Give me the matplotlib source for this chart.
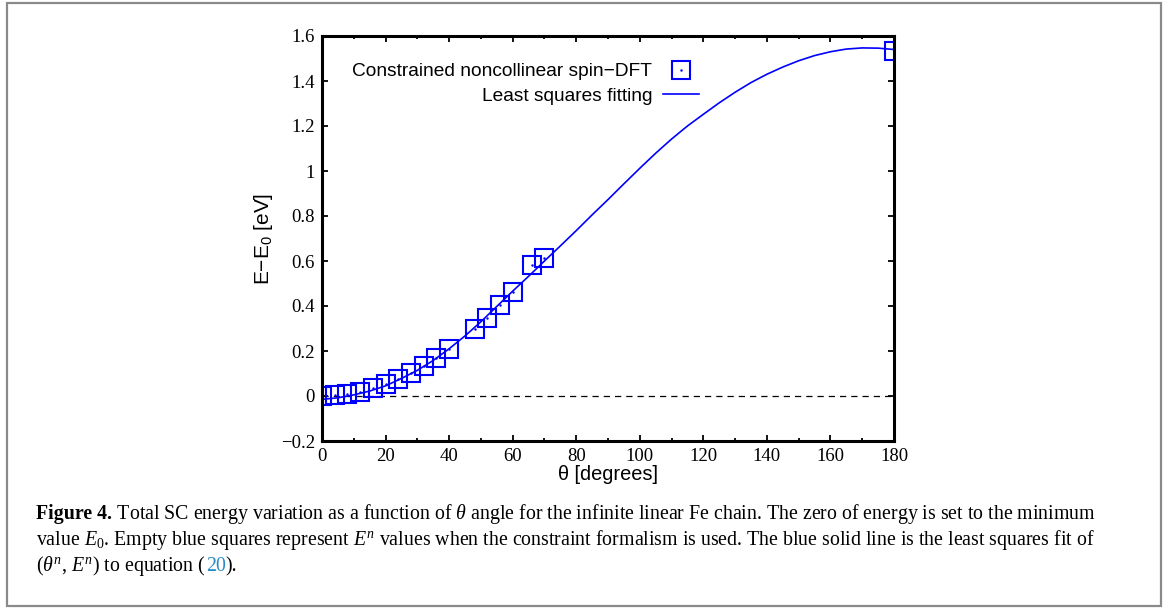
import numpy as np
import matplotlib
matplotlib.use('Agg')
from matplotlib import pyplot as plt
from matplotlib.patches import Rectangle
from matplotlib.legend_handler import HandlerTuple
from matplotlib.ticker import MultipleLocator

plt.rcParams['mathtext.fontset'] = 'custom'
plt.rcParams['mathtext.rm'] = 'Liberation Serif'
plt.rcParams['mathtext.it'] = 'Liberation Serif:italic'
plt.rcParams['mathtext.bf'] = 'Liberation Serif:bold'
plt.rcParams['mathtext.sf'] = 'Liberation Sans'

# constrained noncollinear spin-DFT points
theta = [0, 4, 8, 12, 16, 20, 24, 28, 32, 36, 40, 48, 52, 56, 60, 66, 70, 180]
energy = [0.0, 0.004, 0.009, 0.02, 0.034, 0.052, 0.074, 0.104, 0.133, 0.167,
          0.207, 0.296, 0.345, 0.404, 0.464, 0.582, 0.612, 1.533]

# least squares curve
fit_theta = [0, 5, 10, 15, 20, 25, 30, 35, 40, 45, 50, 55, 60, 65, 70, 75, 80, 85, 90,
             95, 100, 105, 110, 115, 120, 125, 130, 135, 140, 145, 150, 155, 160,
             165, 170, 175, 180]
fit_energy = [-0.015, -0.008, 0.005, 0.022, 0.045, 0.078, 0.114, 0.158, 0.210, 0.267,
              0.330, 0.398, 0.466, 0.532, 0.600, 0.667, 0.735, 0.805, 0.873,
              0.943, 1.012, 1.079, 1.142, 1.200, 1.252, 1.303, 1.350, 1.393, 1.430,
              1.462, 1.490, 1.513, 1.530, 1.542, 1.547, 1.546, 1.540]

xticks = [0, 20, 40, 60, 80, 100, 120, 140, 160, 180]
yticks = [-0.2, 0, 0.2, 0.4, 0.6, 0.8, 1, 1.2, 1.4, 1.6]
ytick_labels = ['\u22120.2', '0', '0.2', '0.4', '0.6', '0.8', '1', '1.2', '1.4', '1.6']

W, H = 1170, 608
fig = plt.figure(figsize=(W / 100, H / 100), dpi=100)
ax = fig.add_axes([322 / W, 1 - 441 / H, (894 - 322) / W, (441 - 36) / H])

ax.plot([0, 180], [0, 0], color='black', lw=0.9, dashes=(5, 4))
curve, = ax.plot(fit_theta, fit_energy, color='#0000ff', lw=1.2)
sq, = ax.plot(theta, energy, ls='none', marker='s', ms=12.5, mfc='none',
              mec='#0000ff', mew=1.5)
dot, = ax.plot(theta, energy, ls='none', marker='.', ms=1.5, color='#0000ff')

ax.set_xlim(0, 180)
ax.set_ylim(-0.2, 1.6)
ax.set_xticks(xticks)
ax.set_yticks(yticks)
ax.set_yticklabels(ytick_labels)
ax.xaxis.set_minor_locator(MultipleLocator(10))
for s in ax.spines.values():
    s.set_linewidth(2.2)
ax.tick_params(which='both', direction='in', top=True, right=True, width=1.3,
               labelsize=13.5, labelfontfamily='Liberation Serif', pad=5)
ax.tick_params(which='major', length=4.5)
ax.tick_params(which='minor', length=2.5)

ax.set_xlabel('\u03b8 [degrees]', family='Liberation Sans', fontsize=14.4, labelpad=0)
ax.set_ylabel('E\u2212E$_\\mathsf{0}$ [eV]', family='Liberation Sans', fontsize=15,
              labelpad=4)

leg = ax.legend([(sq, dot), curve],
                ['Constrained noncollinear spin\u2212DFT', 'Least squares fitting'],
                handler_map={tuple: HandlerTuple(ndivide=1)},
                markerfirst=False, frameon=False, loc='upper right',
                bbox_to_anchor=(699 / W, 1 - 63 / H), bbox_transform=fig.transFigure,
                prop={'family': 'Liberation Sans', 'size': 13.8},
                handlelength=1.9, handletextpad=0.55, labelspacing=0.35,
                borderpad=0, borderaxespad=0)

# outer frame
fig.patches.append(Rectangle((7 / W, 1 - 606 / H), (1161 - 7) / W, (606 - 3) / H,
                             transform=fig.transFigure, fill=False,
                             edgecolor='#8a8a8a', lw=1.6))

# caption
cap = dict(family='Liberation Serif', fontsize=14.3, va='baseline')
renderer = fig.canvas.get_renderer()


def put_line(y, pieces, x0=36):
    x = x0
    for txt, extra in pieces:
        kw = dict(cap)
        kw.update(extra)
        t = fig.text(x / W, 1 - y / H, txt, **kw)
        x += t.get_window_extent(renderer).width


put_line(519, [('Figure 4.', {'weight': 'bold'}),
               (r' Total SC energy variation as a function of $\theta$ angle for the infinite '
                r'linear Fe chain. The zero of energy is set to the minimum', {})])
put_line(545, [(r'value $E_0$. Empty blue squares represent $E^n$ values when the constraint '
                r'formalism is used. The blue solid line is the least squares fit of', {})])
put_line(571, [(r'($\theta^n$, $E^n$) to equation (', {}),
               ('20', {'color': '#2a8bc4'}),
               (').', {})])

fig.savefig('out.png', dpi=100)
